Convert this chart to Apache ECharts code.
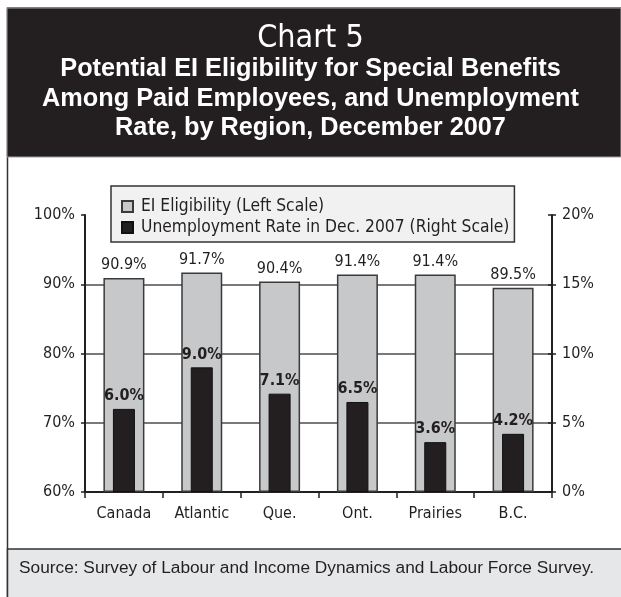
<!DOCTYPE html>
<html>
<head>
<meta charset="utf-8">
<script src="https://cdn.jsdelivr.net/npm/echarts@6/dist/echarts.min.js"></script>
<style>
  html, body { margin: 0; padding: 0; background: #ffffff; }
  #chart { width: 621px; height: 597px; }
</style>
</head>
<body>
<div id="chart"></div>
<script>
// Regions shown along the bottom axis
const regions = ['Canada', 'Atlantic', 'Que.', 'Ont.', 'Prairies', 'B.C.'];
// Potential EI eligibility, percent (left scale)
const eligibility = [90.9, 91.7, 90.4, 91.4, 91.4, 89.5];
// Unemployment rate in December 2007, percent (right scale)
const unemployment = [6.0, 9.0, 7.1, 6.5, 3.6, 4.2];
// Legend entries
const seriesNames = ['EI Eligibility (Left Scale)', 'Unemployment Rate in Dec. 2007 (Right Scale)'];
// Text blocks
const chartNumber = 'Chart 5';
const titleLines = [
  'Potential EI Eligibility for Special Benefits',
  'Among Paid Employees, and Unemployment',
  'Rate, by Region, December 2007'
];
const sourceNote = 'Source: Survey of Labour and Income Dynamics and Labour Force Survey.';

const COND = '"DejaVu Sans Condensed", "DejaVu Sans", sans-serif';
const SANS = '"Liberation Sans", Arial, sans-serif';
const INK = '#231f20';
const pct = v => v.toFixed(1) + '%';

const chart = echarts.init(document.getElementById('chart'), null, { renderer: 'canvas' });

const titles = [
  { text: chartNumber, left: 'center', top: 18,
    textStyle: { color: '#ffffff', fontFamily: COND, fontSize: 32, fontWeight: 'normal' } }
].concat(titleLines.map((line, i) => ({
  text: line, left: 'center', top: 57 + i * 29.5, padding: 0,
  textStyle: { color: '#ffffff', fontFamily: SANS, fontSize: 25.3, fontWeight: 'bold' }
})));

chart.setOption({
  animation: false,
  backgroundColor: '#ffffff',
  graphic: [
    // white panel with frame
    { type: 'rect', z: -10, shape: { x: 7.5, y: 8, width: 620, height: 589 },
      style: { fill: '#ffffff', stroke: '#333333', lineWidth: 1.5 } },
    // dark header band
    { type: 'rect', z: -9, shape: { x: 7, y: 8, width: 614, height: 149 },
      style: { fill: INK, stroke: '#a0a0a0', lineWidth: 1 } },
    // grey footer band
    { type: 'rect', z: -9, shape: { x: 7.5, y: 549, width: 620, height: 60 },
      style: { fill: '#e6e7e8', stroke: '#333333', lineWidth: 1.5 } },
    { type: 'text', z: 5, left: 19, top: 560,
      style: { text: sourceNote, fill: INK, font: '17.3px "Liberation Sans", Arial, sans-serif' } }
  ],
  title: titles,
  legend: {
    orient: 'vertical', left: 111, top: 186,
    backgroundColor: '#f1f1f2', borderColor: '#333333', borderWidth: 1.5, borderRadius: 0,
    padding: [12, 5, 6, 10], itemGap: 4,
    itemWidth: 11, itemHeight: 11, icon: 'rect',
    textStyle: { fontFamily: COND, fontSize: 17.3, lineHeight: 17, color: INK, padding: [0, 0, 0, 3] },
    data: seriesNames
  },
  grid: { left: 85, right: 69, top: 215, bottom: 105, containLabel: false },
  xAxis: [
    { type: 'category', data: regions, position: 'bottom',
      axisLine: { lineStyle: { color: INK, width: 2 } },
      axisTick: { show: true, length: 6, lineStyle: { color: INK, width: 1.5 } },
      axisLabel: { interval: 0, fontFamily: COND, fontSize: 16, color: INK, margin: 14 } },
    { type: 'category', data: regions, show: false }
  ],
  yAxis: [
    { type: 'value', min: 60, max: 100, interval: 10, startValue: 60, position: 'left',
      axisLine: { show: true, lineStyle: { color: INK, width: 2 } },
      axisTick: { show: true, length: 4, lineStyle: { color: INK, width: 1.5 } },
      axisLabel: { formatter: '{value}%', fontFamily: COND, fontSize: 16, color: INK, margin: 10 },
      splitLine: { show: true, lineStyle: { color: ['transparent', '#4d4d4d', '#4d4d4d', '#4d4d4d', 'transparent'], width: 1.5 } } },
    { type: 'value', min: 0, max: 20, interval: 5, position: 'right',
      axisLine: { show: true, lineStyle: { color: INK, width: 2 } },
      axisTick: { show: true, length: 4, lineStyle: { color: INK, width: 1.5 } },
      axisLabel: { formatter: '{value}%', fontFamily: COND, fontSize: 16, color: INK, margin: 10 },
      splitLine: { show: false } },
    // inner half of the right-hand tick marks
    { type: 'value', min: 0, max: 20, interval: 5, position: 'right',
      axisLine: { show: false },
      axisTick: { show: true, inside: true, length: 4, lineStyle: { color: INK, width: 1.5 } },
      axisLabel: { show: false }, splitLine: { show: false } }
  ],
  series: [
    { name: seriesNames[0], type: 'bar', xAxisIndex: 0, yAxisIndex: 0,
      data: eligibility, barWidth: 41, clip: true, z: 2,
      itemStyle: { color: '#c7c8ca', borderColor: '#3a3a3a', borderWidth: 1.5 },
      label: { show: true, position: 'top', distance: 5, formatter: p => pct(p.value),
               fontFamily: COND, fontSize: 16, color: INK } },
    { name: seriesNames[1], type: 'bar', xAxisIndex: 1, yAxisIndex: 1,
      data: unemployment, barWidth: 22, clip: true, z: 3,
      itemStyle: { color: INK, borderColor: '#111111', borderWidth: 1 },
      label: { show: true, position: 'top', distance: 5, formatter: p => pct(p.value),
               fontFamily: COND, fontSize: 16, fontWeight: 'bold', color: INK } }
  ]
});
</script>
</body>
</html>
